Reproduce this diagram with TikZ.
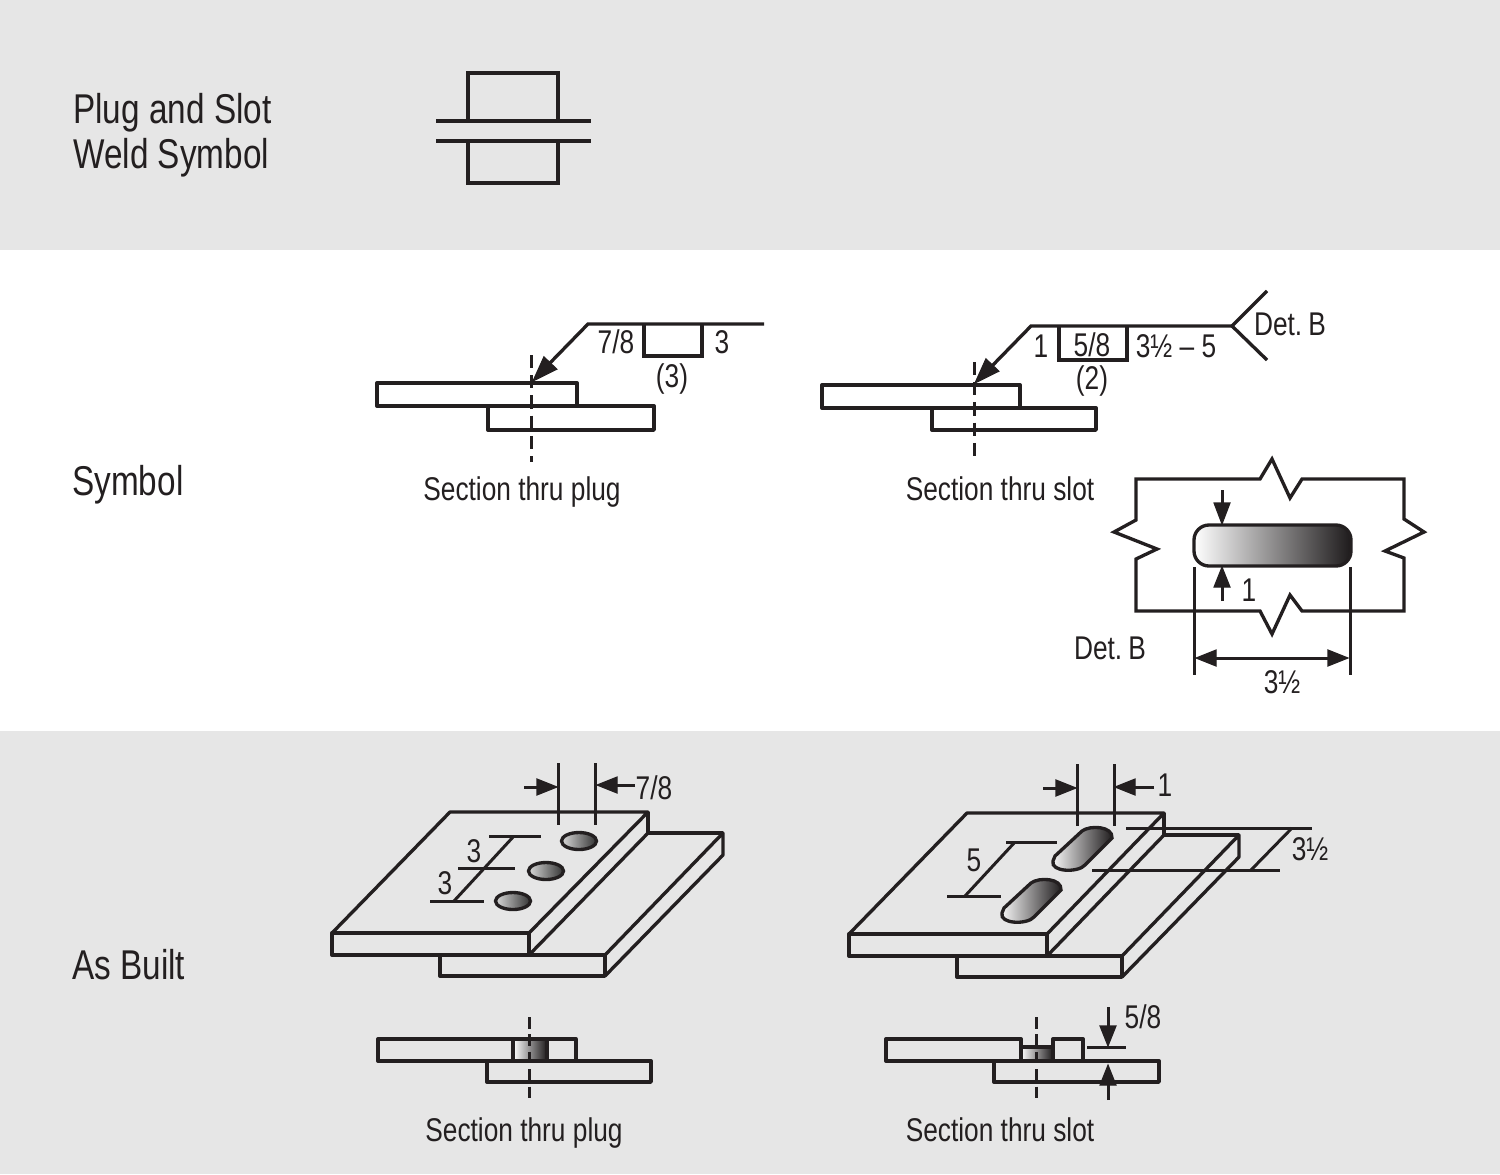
\documentclass[tikz,border=0pt]{standalone}
\usepackage{fontspec}
\setmainfont[FakeStretch=0.8]{Liberation Sans}
\definecolor{panelgray}{HTML}{E6E6E6}
\definecolor{inkblack}{HTML}{231F20}
\definecolor{slotdark}{HTML}{1E1B1C}
\tikzset{
	weldline/.style={inkblack,line width=1.9pt,line join=miter},
	plate/.style={weldline,line join=round},
	dimline/.style={inkblack,line width=1.7pt},
	centerline/.style={inkblack,line width=1.7pt,dash pattern=on 7.5pt off 4pt},
	shortcenter/.style={centerline,dash pattern=on 6.6pt off 3.3pt},
	tip/.style={fill=inkblack,draw=inkblack,line width=0.6pt},
	hole/.style={weldline,left color=white,right color=slotdark},
	plughole/.style={weldline,left color=black!15,right color=black!80},
	titletext/.style={anchor=base west,text=inkblack,font=\fontsize{23.7}{28}\selectfont},
	labeltext/.style={text=inkblack,text height=13.4pt,text depth=0pt,font=\fontsize{18.7}{22}\selectfont}
}

\begin{document}
\begin{tikzpicture}[x=0.02cm,y=0.02cm]
	\tikzstyle{every node}+=[inner sep=0pt]
	\useasboundingbox (0,0) rectangle (1500,-1174);
	% panels
	\fill [panelgray] (0,0) rectangle (1500,-250);
	\fill [panelgray] (0,-731) rectangle (1500,-1174);
	% row titles
	\node [titletext] (plugtitle) at (73,-123) {Plug and Slot};
	\node [titletext] (weldtitle) at (73,-168) {Weld Symbol};
	\node [titletext] (symboltitle) at (72,-495) {Symbol};
	\node [titletext] (builttitle) at (72,-979) {As Built};
	% the plug and slot symbol
	\draw [weldline] (436,-121) -- (591,-121);
	\draw [weldline] (436,-141) -- (591,-141);
	\draw [weldline] (468,-121) -- (468,-73) -- (558,-73) -- (558,-121);
	\draw [weldline] (468,-141) -- (468,-183) -- (558,-183) -- (558,-141);
	% section thru plug, callout
	\draw [plate] (377,-383) rectangle (577,-406);
	\draw [plate] (488,-406) rectangle (654,-430);
	\draw [centerline] (531,-355) -- (531,-462);
	\draw [weldline] (764,-324) -- (588,-324) -- (548,-365);
	\fill [tip] (533,-381) -- (556.9,-369.2) -- (543.9,-356.8) -- cycle;
	\draw [weldline] (644,-324) -- (644,-356) -- (702,-356) -- (702,-324);
	\node [labeltext] (plugsize) at (616,-342) {7/8};
	\node [labeltext] (plugpitch) at (722,-342) {3};
	\node [labeltext] (plugcount) at (672,-376) {(3)};
	\node [labeltext] (pluglabel) at (522,-489) {Section thru plug};
	% section thru slot, callout
	\draw [plate] (822,-385) rectangle (1020,-408);
	\draw [plate] (932,-408) rectangle (1096,-430);
	\draw [centerline] (974,-362) -- (974,-462);
	\draw [weldline] (1232,-326) -- (1031,-326) -- (990,-368);
	\fill [tip] (975,-383) -- (998.9,-371.2) -- (985.9,-358.8) -- cycle;
	\draw [weldline] (1267,-291) -- (1232,-326) -- (1267,-360);
	\draw [weldline] (1059,-326) -- (1059,-360) -- (1127,-360) -- (1127,-326);
	\node [labeltext] (slotwidth) at (1041,-346) {1};
	\node [labeltext] (slotdepth) at (1092,-345) {5/8};
	\node [labeltext] (slotsize) at (1176,-346) {3½ – 5};
	\node [labeltext] (slotcount) at (1092,-378) {(2)};
	\node [labeltext] (slottail) at (1290,-324) {Det.\kern-2pt{} B};
	\node [labeltext] (slotlabel) at (1000,-489) {Section thru slot};
	% detail B
	\draw [weldline] (1136,-479) -- (1260,-479) -- (1272,-459) -- (1290,-498) -- (1302,-479) -- (1404,-479)
		-- (1404,-519) -- (1424,-532) -- (1385,-551) -- (1404,-558) -- (1404,-611)
		-- (1302,-611) -- (1290,-595) -- (1272,-634) -- (1260,-611) -- (1136,-611)
		-- (1136,-559) -- (1157,-549) -- (1114,-532) -- (1136,-520) -- cycle;
	\draw [hole,rounded corners=0.3cm] (1194,-525) rectangle (1351,-566);
	\draw [dimline] (1222,-490) -- (1222,-505);
	\fill [tip] (1222,-524) -- (1230,-503) -- (1214,-503) -- cycle;
	\draw [dimline] (1222,-601) -- (1222,-586);
	\fill [tip] (1222,-567) -- (1230,-587) -- (1214,-587) -- cycle;
	\node [labeltext] (detwidth) at (1249,-590) {1};
	\draw [dimline] (1194,-567) -- (1194,-675);
	\draw [dimline] (1350,-567) -- (1350,-675);
	\draw [dimline] (1214,-658) -- (1330,-658);
	\fill [tip] (1196,-658) -- (1216,-650) -- (1216,-666) -- cycle;
	\fill [tip] (1348,-658) -- (1328,-650) -- (1328,-666) -- cycle;
	\node [labeltext] (detlength) at (1282,-682) {3½};
	\node [labeltext] (detlabel) at (1110,-648) {Det.\kern-2pt{} B};
	% plug, as built
	\draw [plate] (440,-955) rectangle (605,-976);
	\draw [plate] (605,-955) -- (723,-833) -- (723,-855) -- (605,-976);
	\draw [plate] (648,-833) -- (723,-833);
	\draw [plate] (529,-955) -- (648,-833);
	\draw [plate] (332,-933) rectangle (529,-955);
	\draw [plate] (332,-933) -- (450,-812) -- (648,-812) -- (529,-933);
	\draw [plate] (648,-812) -- (648,-833);
	\draw [plughole] (579,-841) ellipse (17.5 and 8.5);
	\draw [plughole] (546,-871) ellipse (17.5 and 8.5);
	\draw [plughole] (513,-901) ellipse (17.5 and 8.5);
	\draw [dimline] (558,-763) -- (558,-825);
	\draw [dimline] (595,-763) -- (595,-825);
	\draw [dimline] (524,-787) -- (540,-787);
	\fill [tip] (557,-787) -- (537,-779) -- (537,-795) -- cycle;
	\draw [dimline] (635,-785) -- (614,-785);
	\fill [tip] (597,-785) -- (617,-777) -- (617,-793) -- cycle;
	\node [labeltext] (builtsize) at (654,-788) {7/8};
	\draw [dimline] (489,-836) -- (541,-836);
	\draw [dimline] (458,-868) -- (515,-868);
	\draw [dimline] (430,-901) -- (484,-901);
	\draw [dimline] (514,-836) -- (454,-901);
	\node [labeltext] (builtpitchb) at (474,-851) {3};
	\node [labeltext] (builtpitcha) at (445,-883) {3};
	% slot, as built
	\draw [plate] (957,-956) rectangle (1122,-977);
	\draw [plate] (1122,-956) -- (1239,-835) -- (1239,-857) -- (1122,-977);
	\draw [plate] (1164,-835) -- (1239,-835);
	\draw [plate] (1047,-956) -- (1164,-835);
	\draw [plate] (849,-934) rectangle (1047,-956);
	\draw [plate] (849,-934) -- (967,-813) -- (1164,-813) -- (1047,-934);
	\draw [plate] (1164,-813) -- (1164,-835);
	\foreach \dx/\dy in {0/0,-51/-52}
		\draw [hole,shift={(\dx,\dy)}] (1055,-856) -- (1082,-831) .. controls (1090,-825) and (1113,-826) .. (1112,-838)
			-- (1085,-865) .. controls (1078,-873) and (1050,-872) .. (1053,-861) -- cycle;
	\draw [dimline] (1077,-764) -- (1077,-826);
	\draw [dimline] (1114,-764) -- (1114,-826);
	\draw [dimline] (1043,-788) -- (1060,-788);
	\fill [tip] (1076,-788) -- (1056,-780) -- (1056,-796) -- cycle;
	\draw [dimline] (1154,-787) -- (1133,-787);
	\fill [tip] (1115,-787) -- (1135,-779) -- (1135,-795) -- cycle;
	\node [labeltext] (builtwidth) at (1165,-785) {1};
	\draw [dimline] (1006,-842) -- (1057,-842);
	\draw [dimline] (947,-896) -- (1001,-896);
	\draw [dimline] (1015,-842) -- (965,-896);
	\node [labeltext] (builtpitch) at (974,-860) {5};
	\draw [dimline] (1126,-828) -- (1312,-828);
	\draw [dimline] (1092,-870) -- (1280,-870);
	\draw [dimline] (1292,-828) -- (1251,-870);
	\node [labeltext] (builtlength) at (1310,-849) {3½};
	% section thru plug, as built
	\draw [hole] (513,-1039) rectangle (547,-1061);
	\draw [plate] (378,-1039) rectangle (576,-1061);
	\draw [plate] (487,-1061) rectangle (651,-1082);
	\draw [shortcenter] (529,-1017) -- (529,-1099);
	\node [labeltext] (builtpluglabel) at (524,-1130) {Section thru plug};
	% section thru slot, as built
	\draw [hole] (1021,-1047) rectangle (1053,-1061);
	\draw [plate] (886,-1039) rectangle (1021,-1061);
	\draw [plate] (1053,-1039) rectangle (1083,-1061);
	\draw [plate] (994,-1061) rectangle (1159,-1082);
	\draw [shortcenter] (1036,-1017) -- (1036,-1099);
	\draw [dimline] (1087,-1047) -- (1126,-1047);
	\draw [dimline] (1108,-1007) -- (1108,-1028);
	\fill [tip] (1108,-1046) -- (1116,-1026) -- (1100,-1026) -- cycle;
	\draw [dimline] (1108,-1100) -- (1108,-1083);
	\fill [tip] (1108,-1065) -- (1116,-1085) -- (1100,-1085) -- cycle;
	\node [labeltext] (builtdepth) at (1143,-1017) {5/8};
	\node [labeltext] (builtslotlabel) at (1000,-1130) {Section thru slot};
\end{tikzpicture}
\end{document}
